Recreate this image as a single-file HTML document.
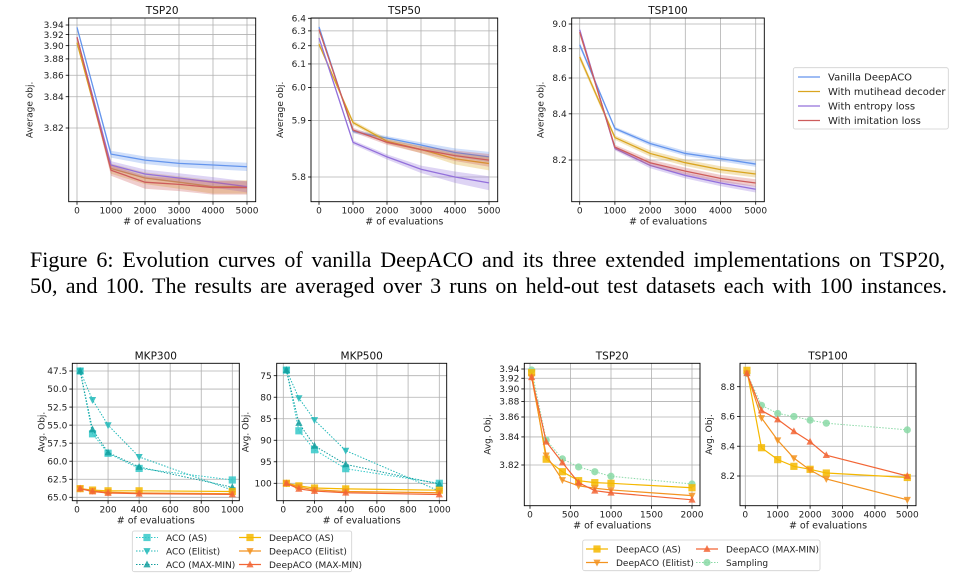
<!DOCTYPE html>
<html><head><meta charset="utf-8"><style>
html,body{margin:0;padding:0;background:#fff}
#wrap{position:relative;width:980px;height:578px;overflow:hidden}
svg{display:block}
.cap{position:absolute;left:30px;font-family:"Liberation Serif","Times New Roman",serif;font-size:22px;line-height:26px;white-space:nowrap;text-align:justify;text-align-last:justify;color:#000}
</style></head><body>
<div id="wrap">
<svg id="fig" width="980" height="578" viewBox="0 0 980 578" xmlns="http://www.w3.org/2000/svg"></svg>
<div class="cap" style="top:246.5px;width:915px">Figure 6: Evolution curves of vanilla DeepACO and its three extended implementations on TSP20,</div>
<div class="cap" style="top:272.5px;width:917px">50, and 100. The results are averaged over 3 runs on held-out test datasets each with 100 instances.</div>
</div>
<script>
// ---------- data ----------
const topX = [0,1000,2000,3000,4000,5000];
const t20Vanilla = [3.935,3.809,3.807,3.806,3.8055,3.805];
const t20Multi = [3.905,3.8045,3.802,3.801,3.800,3.800];
const t20Entropy = [3.915,3.8055,3.803,3.802,3.801,3.800];
const t20Imit = [3.915,3.804,3.801,3.8005,3.7998,3.7998];
const t20Band = [0.002,0.0012,0.0012,0.0012,0.0012,0.0012];
const t50Vanilla = [6.33,5.875,5.861,5.848,5.835,5.828];
const t50Multi = [6.21,5.895,5.855,5.84,5.825,5.818];
const t50Entropy = [6.25,5.853,5.828,5.81,5.80,5.793];
const t50Imit = [6.31,5.878,5.853,5.84,5.83,5.823];
const t50Band = [0.01,0.004,0.004,0.005,0.007,0.008];
const t100Vanilla = [8.83,8.33,8.265,8.225,8.205,8.185];
const t100Multi = [8.74,8.29,8.225,8.19,8.165,8.15];
const t100Entropy = [8.95,8.245,8.18,8.145,8.12,8.10];
const t100Imit = [8.93,8.25,8.19,8.16,8.135,8.12];
const t100Band = [0.02,0.008,0.01,0.01,0.01,0.01];
const t20Ticks = [3.82,3.84,3.86,3.88,3.90,3.92,3.94];
const t50Ticks = [5.8,5.9,6.0,6.1,6.2,6.3,6.4];
const t100Ticks = [8.2,8.4,8.6,8.8,9.0];
const topXTicks = [0,1000,2000,3000,4000,5000];

const mkpX = [20,100,200,400,1000];
const m300AcoAS = [47.5,56.2,58.9,61.0,62.6];
const m300AcoEl = [47.5,51.5,55.0,59.4,64.0];
const m300AcoMM = [47.5,55.6,58.8,60.8,63.6];
const m300DAS = [63.8,64.0,64.1,64.1,64.2];
const m300DEl = [63.8,64.1,64.3,64.4,64.5];
const m300DMM = [63.8,64.2,64.4,64.5,64.6];
const m500AcoAS = [73.7,87.8,92.2,96.6,100.0];
const m500AcoEl = [73.7,80.2,85.3,92.4,101.8];
const m500AcoMM = [73.7,86.0,91.3,95.6,100.2];
const m500DAS = [100.0,100.6,101.1,101.3,101.6];
const m500DEl = [100.0,100.9,101.5,101.9,102.2];
const m500DMM = [100.0,101.3,101.8,102.2,102.6];
const m300Ticks = [47.5,50.0,52.5,55.0,57.5,60.0,62.5,65.0];
const m500Ticks = [75,80,85,90,95,100];
const mkpXTicks = [0,200,400,600,800,1000];

const b20X = [20,200,400,600,800,1000,2000];
const b20AS = [3.9317,3.8235,3.8163,3.8119,3.811,3.8107,3.8088];
const b20El = [3.922,3.826,3.8122,3.8096,3.8086,3.8079,3.8057];
const b20MM = [3.922,3.836,3.8214,3.811,3.8076,3.8068,3.8042];
const b20Samp = [3.9377,3.8374,3.8237,3.8189,3.8163,3.8140,3.8104];
const b20XTicks = [0,500,1000,1500,2000];
const b100X = [50,500,1000,1500,2000,2500,5000];
const b100AS = [8.91,8.39,8.31,8.265,8.245,8.22,8.19];
const b100El = [8.89,8.59,8.44,8.32,8.24,8.18,8.04];
const b100MM = [8.89,8.64,8.58,8.50,8.43,8.34,8.20];
const b100Samp = [8.89,8.675,8.62,8.60,8.575,8.555,8.51];
const b100Ticks = [8.2,8.4,8.6,8.8];
const b100XTicks = [0,1000,2000,3000,4000,5000];

// ---------- drawing ----------
const NS='http://www.w3.org/2000/svg';
const svgRoot=document.getElementById('fig');
function mk(tag,attrs,parent){const e=document.createElementNS(NS,tag);for(const k in attrs)e.setAttribute(k,attrs[k]);(parent||fig).appendChild(e);return e;}
const fig=document.createElementNS(NS,'g');
fig.setAttribute('font-family','DejaVu Sans, Liberation Sans, sans-serif');
svgRoot.appendChild(fig);
const C={blue:'#6495ed',gold:'#daa520',purple:'#9370db',red:'#cd5c5c',
 acoAS:'#35c9c9',acoEl:'#20b8b8',acoMM:'#139f9f',dAS:'#f5b800',dEl:'#f39320',dMM:'#f26535',samp:'#8ad9a6'};

function axis(cfg){
  const g=mk('g',{});
  
  
  const xs=v=>cfg.xa[0]+(v-cfg.xa[1])*(cfg.xa[2]-cfg.xa[0])/(cfg.xa[3]-cfg.xa[1]);
  const t=v=>cfg.c===null?v:Math.log(v-cfg.c);
  const ys=v=>cfg.ya[0]+(t(v)-t(cfg.ya[1]))*(cfg.ya[2]-cfg.ya[0])/(t(cfg.ya[3])-t(cfg.ya[1]));
  const {L,R,T,B}=cfg;
  mk('rect',{x:L,y:T,width:R-L,height:B-T,fill:'#fff'},g);
  const grid=mk('g',{},g);
  
  
  cfg.xt.forEach(v=>{const x=xs(v);
    mk('line',{x1:x,x2:x,y1:T,y2:B,stroke:'#b0b0b0','stroke-width':0.8},grid);
    mk('line',{x1:x,x2:x,y1:B,y2:B+3,stroke:'#000','stroke-width':0.8},g);
    const tx=mk('text',{x:x,y:B+12,'font-size':9,'text-anchor':'middle',fill:'#222'},g);
    
    
    tx.textContent=String(v);});
  cfg.yt.forEach(v=>{const y=ys(v);
    mk('line',{x1:L,x2:R,y1:y,y2:y,stroke:'#b0b0b0','stroke-width':0.8},grid);
    mk('line',{x1:L-3,x2:L,y1:y,y2:y,stroke:'#000','stroke-width':0.8},g);
    const tx=mk('text',{x:L-5,y:y+3.2,'font-size':9,'text-anchor':'end',fill:'#222'},g);
    
    
    tx.textContent=v.toFixed(cfg.dec);});
  const clipId='clip'+cfg.name;
  const cp=mk('clipPath',{id:clipId},g);mk('rect',{x:L,y:T,width:R-L,height:B-T},cp);
  const plot=mk('g',{'clip-path':'url(#'+clipId+')'},g);
  cfg.series.forEach(s=>{
    const sg=mk('g',{},plot);
    
    
    if(s.band){
      let d='';
      s.x.forEach((xv,i)=>{d+=(i?'L':'M')+xs(xv)+','+ys(s.y[i]+s.band[i]);});
      for(let i=s.x.length-1;i>=0;i--)d+='L'+xs(s.x[i])+','+ys(s.y[i]-s.band[i]);
      const p=mk('path',{d:d+'Z',fill:s.color,opacity:0.3},sg);
      
      
    }
    const pts=s.x.map((xv,i)=>xs(xv)+','+ys(s.y[i])).join(' ');
    const ln=mk('polyline',{points:pts,fill:'none',stroke:s.color,'stroke-width':s.w||1.3,'stroke-dasharray':s.dash||'none'},sg);
    
    
    if(s.marker)s.x.forEach((xv,i)=>{const m=marker(s.marker,xs(xv),ys(s.y[i]),s.color,sg);
      
      });
  });
  mk('rect',{x:L,y:T,width:R-L,height:B-T,fill:'none',stroke:'#000','stroke-width':0.9},g);
  const tt=mk('text',{x:(L+R)/2,y:T-4,'font-size':10.5,'text-anchor':'middle',fill:'#111'},g);
  
  
  tt.textContent=cfg.title;
  const xl=mk('text',{x:(L+R)/2,y:B+23,'font-size':9.5,'text-anchor':'middle',fill:'#222'},g);
  
  
  xl.textContent='# of evaluations';
  const yx=L-cfg.ylo, yy=(T+B)/2;
  const yl=mk('text',{x:yx,y:yy,'font-size':9,'text-anchor':'middle',fill:'#222',transform:'rotate(-90 '+yx+' '+yy+')'},g);
  
  
  yl.textContent=cfg.ylabel;
}
function marker(type,x,y,color,parent){
  const s=3.6;
  if(type==='sq')return mk('rect',{x:x-s,y:y-s,width:2*s,height:2*s,fill:color,opacity:0.85},parent);
  if(type==='dn')return mk('polygon',{points:`${x-s},${y-s*0.8} ${x+s},${y-s*0.8} ${x},${y+s*1.1}`,fill:color,opacity:0.85},parent);
  if(type==='up')return mk('polygon',{points:`${x-s},${y+s*0.8} ${x+s},${y+s*0.8} ${x},${y-s*1.1}`,fill:color,opacity:0.85},parent);
  return mk('circle',{cx:x,cy:y,r:s,fill:color,opacity:0.85},parent);
}
function topSeries(a,b,c,d,band){return [
 {name:'vanilla-deepaco',x:topX,y:a,band:band,color:C.blue},
 {name:'mutihead-decoder',x:topX,y:b,band:band.map(v=>v*1.2),color:C.gold},
 {name:'entropy-loss',x:topX,y:c,band:band,color:C.purple},
 {name:'imitation-loss',x:topX,y:d,band:band.map(v=>v*1.2),color:C.red}];}
axis({name:'top-tsp20-chart',title:'TSP20',ylabel:'Average obj.',ylo:36,L:68.7,R:255.7,T:18,B:201.7,xa:[77,0,247,5000],ya:[25,3.94,128,3.82],c:3.785,xt:topXTicks,yt:t20Ticks,dec:2,series:topSeries(t20Vanilla,t20Multi,t20Entropy,t20Imit,t20Band)});
axis({name:'top-tsp50-chart',title:'TSP50',ylabel:'Average obj.',ylo:28,L:311,R:497.7,T:18,B:201.7,xa:[319,0,489,5000],ya:[18.3,6.4,177,5.8],c:5.7,xt:topXTicks,yt:t50Ticks,dec:1,series:topSeries(t50Vanilla,t50Multi,t50Entropy,t50Imit,t50Band)});
axis({name:'top-tsp100-chart',title:'TSP100',ylabel:'Average obj.',ylo:28,L:571.7,R:764.3,T:18,B:201.7,xa:[579.7,0,755.7,5000],ya:[24,9.0,160,8.2],c:7.6,xt:topXTicks,yt:t100Ticks,dec:1,series:topSeries(t100Vanilla,t100Multi,t100Entropy,t100Imit,t100Band)});

function mkpSeries(a,b,c,d,e,f){return [
 {name:'aco-as',x:mkpX,y:a,color:C.acoAS,dash:'1.5,1.5',w:1,marker:'sq'},
 {name:'aco-elitist',x:mkpX,y:b,color:C.acoEl,dash:'1.5,1.5',w:1,marker:'dn'},
 {name:'aco-max-min',x:mkpX,y:c,color:C.acoMM,dash:'1.5,1.5',w:1,marker:'up'},
 {name:'deepaco-as',x:mkpX,y:d,color:C.dAS,w:1.2,marker:'sq'},
 {name:'deepaco-elitist',x:mkpX,y:e,color:C.dEl,w:1.2,marker:'dn'},
 {name:'deepaco-max-min',x:mkpX,y:f,color:C.dMM,w:1.2,marker:'up'}];}
axis({name:'mkp300-chart',title:'MKP300',ylabel:'Avg. Obj.',ylo:28,L:72.3,R:239.3,T:363.3,B:500.7,xa:[77,0,232.3,1000],ya:[371,47.5,497.3,65],c:null,xt:mkpXTicks,yt:m300Ticks,dec:1,series:mkpSeries(m300AcoAS,m300AcoEl,m300AcoMM,m300DAS,m300DEl,m300DMM)});
axis({name:'mkp500-chart',title:'MKP500',ylabel:'Avg. Obj.',ylo:28,L:276.7,R:446.7,T:363.3,B:500.7,xa:[283.3,0,439.3,1000],ya:[375.7,75,483.3,100],c:null,xt:mkpXTicks,yt:m500Ticks,dec:0,series:mkpSeries(m500AcoAS,m500AcoEl,m500AcoMM,m500DAS,m500DEl,m500DMM)});

function tspSeries(x,a,b,c,d){return [
 {name:'sampling',x:x,y:d,color:C.samp,dash:'1.5,1.5',w:1,marker:'ci'},
 {name:'deepaco-as',x:x,y:a,color:C.dAS,w:1.2,marker:'sq'},
 {name:'deepaco-elitist',x:x,y:b,color:C.dEl,w:1.2,marker:'dn'},
 {name:'deepaco-max-min',x:x,y:c,color:C.dMM,w:1.2,marker:'up'}];}
axis({name:'bottom-tsp20-chart',title:'TSP20',ylabel:'Avg. Obj.',ylo:34,L:524.3,R:700,T:363.3,B:505.7,xa:[530,0,692,2000],ya:[369,3.94,465,3.82],c:3.78,xt:b20XTicks,yt:t20Ticks,dec:2,series:tspSeries(b20X,b20AS,b20El,b20MM,b20Samp)});
axis({name:'bottom-tsp100-chart',title:'TSP100',ylabel:'Avg. Obj.',ylo:28,L:740,R:916,T:363.3,B:505.7,xa:[745.3,0,907.3,5000],ya:[386.7,8.8,476,8.2],c:null,xt:b100XTicks,yt:b100Ticks,dec:1,series:tspSeries(b100X,b100AS,b100El,b100MM,b100Samp)});

// ---------- legends ----------
function legend(name,x,y,w,h,items){
  const g=mk('g',{});
  
  
  mk('rect',{x:x,y:y,width:w,height:h,rx:2,fill:'#fff',stroke:'#d0d0d0','stroke-width':0.8},g);
  items.forEach(it=>{
    const e=mk('g',{},g);
    
    
    mk('line',{x1:it.x,x2:it.x+22,y1:it.y,y2:it.y,stroke:it.color,'stroke-width':it.w||1.3,'stroke-dasharray':it.dash||'none'},e);
    if(it.marker)marker(it.marker,it.x+11,it.y,it.color,e);
    const t=mk('text',{x:it.x+30,y:it.y+3.3,'font-size':it.fs||9,fill:'#222'},e);
    t.textContent=it.label;
  });
}
legend('top-legend',793.3,67.7,155,61.3,[
 {x:798,y:77,color:C.blue,label:'Vanilla DeepACO',fs:10},
 {x:798,y:91.5,color:C.gold,label:'With mutihead decoder',fs:10},
 {x:798,y:106,color:C.purple,label:'With entropy loss',fs:10},
 {x:798,y:120.5,color:C.red,label:'With imitation loss',fs:10}]);
legend('mkp-legend',132.3,531,219.4,40.7,[
 {x:136,y:537.5,color:C.acoAS,dash:'1.5,1.5',w:1,marker:'sq',label:'ACO (AS)'},
 {x:136,y:551,color:C.acoEl,dash:'1.5,1.5',w:1,marker:'dn',label:'ACO (Elitist)'},
 {x:136,y:564.5,color:C.acoMM,dash:'1.5,1.5',w:1,marker:'up',label:'ACO (MAX-MIN)'},
 {x:239,y:537.5,color:C.dAS,marker:'sq',label:'DeepACO (AS)'},
 {x:239,y:551,color:C.dEl,marker:'dn',label:'DeepACO (Elitist)'},
 {x:239,y:564.5,color:C.dMM,marker:'up',label:'DeepACO (MAX-MIN)'}]);
legend('tsp-legend',582.7,540,237.3,30.7,[
 {x:586,y:549,color:C.dAS,marker:'sq',label:'DeepACO (AS)'},
 {x:586,y:562.5,color:C.dEl,marker:'dn',label:'DeepACO (Elitist)'},
 {x:696,y:549,color:C.dMM,marker:'up',label:'DeepACO (MAX-MIN)'},
 {x:696,y:562.5,color:C.samp,dash:'1.5,1.5',w:1,marker:'ci',label:'Sampling'}]);
</script>
</body></html>
